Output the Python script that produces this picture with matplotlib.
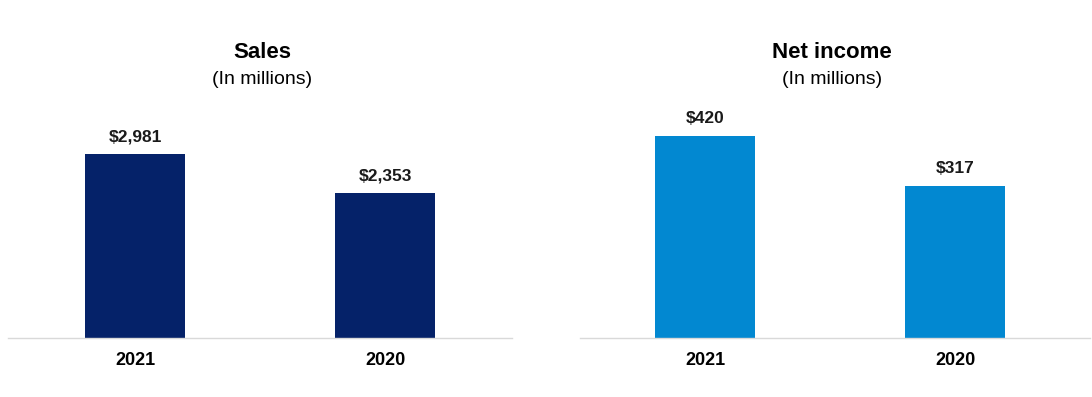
import matplotlib.pyplot as plt

plt.rcParams['font.family'] = ['Liberation Sans', 'DejaVu Sans']

# Data
years = ['2021', '2020']
sales = [2981, 2353]
net_income = [420, 317]
titles = ['Sales', 'Net income']
subtitle = '(In millions)'
colors = ['#052269', '#0288D1']

W, H = 1092, 397
fig = plt.figure(figsize=(W / 100, H / 100), dpi=100)

# axes positions in pixels (left, right), baseline at y=338, top at y=110
panels = [(8, 512), (580, 1090)]
xlims = [(-0.508, 1.508), (-0.5, 1.54)]
ytops = [3694, 474]
base, top = 338, 110

for i, (vals, title) in enumerate(zip([sales, net_income], titles)):
    x0, x1 = panels[i]
    ax = fig.add_axes([x0 / W, (H - base) / H, (x1 - x0) / W, (base - top) / H])
    bars = ax.bar(range(len(years)), vals, width=0.4, color=colors[i])
    ax.set_xlim(*xlims[i])
    ax.set_ylim(0, ytops[i])
    for s in ['top', 'right', 'left']:
        ax.spines[s].set_visible(False)
    ax.spines['bottom'].set_color('#D9D9D9')
    ax.spines['bottom'].set_linewidth(1)
    ax.set_yticks([])
    ax.set_xticks(range(len(years)))
    ax.set_xticklabels(years, fontsize=13, fontweight='bold')
    ax.tick_params(axis='x', length=0, pad=10)
    for b, v in zip(bars, vals):
        ax.annotate(f'${v:,}', (b.get_x() + b.get_width() / 2, v),
                    xytext=(0, 7), textcoords='offset points',
                    ha='center', va='bottom', fontsize=12.5, fontweight='bold',
                    color='#1a1a1a')
    cx = (panels[i][0] + 2) / W + (0.5 - xlims[i][0]) / (xlims[i][1] - xlims[i][0]) * (x1 - x0) / W
    fig.text(cx, 1 - 53 / H, title, ha='center', va='center',
             fontsize=16, fontweight='bold')
    fig.text(cx, 1 - 79 / H, subtitle, ha='center', va='center', fontsize=14)

fig.savefig('out.png', dpi=100, facecolor='white')
